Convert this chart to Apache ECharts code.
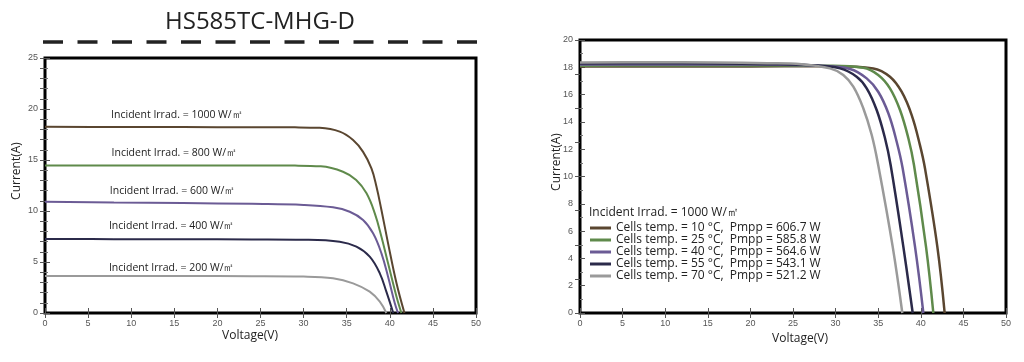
<!DOCTYPE html>
<html><head><meta charset="utf-8">
<script src="https://cdn.jsdelivr.net/npm/echarts@6/dist/echarts.min.js"></script>
<style>html,body{margin:0;padding:0;background:#fff}#c{width:1024px;height:362px}</style>
</head><body><div id="c"></div>
<script>
// ---------- DATA ----------
const titleText = 'HS585TC-MHG-D';
// Left chart: irradiance curves (voltage V, current A)
const irrNames = ['Incident Irrad. = 1000 W/㎡','Incident Irrad. = 800 W/㎡','Incident Irrad. = 600 W/㎡','Incident Irrad. = 400 W/㎡','Incident Irrad. = 200 W/㎡'];
const irr1000V = [0, 8, 16, 24, 29, 31.86, 34.19, 35.74, 36.9, 37.87, 38.45, 39.03, 39.8, 40.78, 41.7];
const irr1000I = [18.25, 18.24, 18.23, 18.21, 18.2, 18.15, 17.78, 16.96, 15.8, 14.18, 12.4, 10.1, 6.83, 2.91, 0];
const irr800V  = [0, 8, 16, 24, 29, 32.0, 34.57, 36.1, 37.3, 38.26, 39.03, 39.8, 40.78, 41.35];
const irr800I  = [14.47, 14.47, 14.46, 14.46, 14.45, 14.38, 13.85, 13.04, 11.73, 9.77, 7.48, 4.87, 1.6, 0];
const irr600V  = [0, 8, 16, 24, 30, 33.41, 35.35, 36.9, 38.06, 39.03, 39.8, 40.58, 40.95];
const irr600I  = [10.9, 10.84, 10.78, 10.7, 10.6, 10.36, 9.93, 9.12, 7.81, 5.85, 3.56, 0.95, 0];
const irr400V  = [0, 8, 16, 24, 30, 34.19, 36.13, 37.67, 38.84, 39.6, 40.4];
const irr400I  = [7.25, 7.24, 7.23, 7.21, 7.18, 6.99, 6.5, 5.52, 3.89, 2.09, 0];
const irr200V  = [0, 8, 16, 24, 30, 33.41, 35.74, 37.67, 38.84, 39.6];
const irr200I  = [3.63, 3.63, 3.62, 3.61, 3.57, 3.4, 2.91, 2.09, 1.11, 0];
// caption anchor (V, I) for each irradiance curve
const irrLabelV = [15.3, 15.0, 14.8, 14.7, 14.7];
const irrLabelI = [19.4, 15.7, 12.0, 8.55, 4.4];
// Right chart: temperature curves at 1000 W/㎡
const irradNote = 'Incident Irrad. = 1000 W/㎡';
const tempNames = ['Cells temp. = 10 °C,  Pmpp = 606.7 W','Cells temp. = 25 °C,  Pmpp = 585.8 W','Cells temp. = 40 °C,  Pmpp = 564.6 W','Cells temp. = 55 °C,  Pmpp = 543.1 W','Cells temp. = 70 °C,  Pmpp = 521.2 W'];
const t10V = [0, 8, 16, 24, 30, 34.43, 36.38, 37.75, 38.93, 39.9, 40.49, 41.94, 42.8];
const t10I = [18.05, 18.06, 18.06, 18.07, 18.08, 17.92, 17.31, 16.21, 14.5, 12.3, 10.6, 4.86, 0];
const t25V = [0, 8, 16, 24, 29, 33.25, 35.0, 36.38, 37.56, 38.54, 39.2, 40.61, 41.47];
const t25I = [18.12, 18.13, 18.14, 18.14, 18.12, 17.97, 17.44, 16.46, 14.87, 12.8, 10.84, 4.86, 0];
const t40V = [0, 8, 16, 24, 28, 31.69, 33.65, 35.0, 36.19, 37.17, 37.87, 39.32, 40.3];
const t40I = [18.2, 18.21, 18.21, 18.18, 18.12, 17.88, 17.19, 16.21, 14.63, 12.55, 10.6, 4.86, 0];
const t55V = [0, 8, 16, 22, 27, 30.52, 32.47, 33.65, 34.82, 35.8, 36.46, 37.95, 39.05];
const t55I = [18.28, 18.3, 18.28, 18.23, 18.15, 17.92, 17.31, 16.46, 14.87, 12.8, 10.84, 4.86, 0];
const t70V = [0, 8, 16, 22, 26, 29.34, 30.9, 32.08, 33.25, 34.24, 35.0, 36.7, 37.83];
const t70I = [18.35, 18.37, 18.35, 18.3, 18.22, 17.92, 17.44, 16.58, 15.0, 13.04, 10.84, 4.86, 0];

// ---------- STYLE ----------
const colors = ['#5a4630', '#5f8a4b', '#6b5b95', '#2b2a4a', '#9a9a9a'];
const txtFont = '"Open Sans", "Noto Sans", sans-serif';
const tickFont = '"Liberation Sans", Arial, sans-serif';
const zip = (a, b) => a.map((v, i) => [v, b[i]]);

const irrV = [irr1000V, irr800V, irr600V, irr400V, irr200V];
const irrI = [irr1000I, irr800I, irr600I, irr400I, irr200I];
const tV = [t10V, t25V, t40V, t55V, t70V];
const tI = [t10I, t25I, t40I, t55I, t70I];

function xAx(gi, pos, labels) {
  return {
    gridIndex: gi, type: 'value', min: 0, max: 50, interval: 5, position: pos,
    axisLine: { show: false },
    axisTick: { show: true, inside: true, length: 5, lineStyle: { color: '#555', width: 1 } },
    axisLabel: { show: labels, color: '#555', fontSize: 9, fontFamily: tickFont, margin: 6 },
    splitLine: { show: false }
  };
}
function yAx(gi, pos, max, interval, labels, minorSplit) {
  return {
    gridIndex: gi, type: 'value', min: 0, max: max, interval: interval, position: pos,
    axisLine: { show: false },
    axisTick: { show: true, inside: true, length: 5, lineStyle: { color: '#555', width: 1 } },
    minorTick: { show: minorSplit > 0, splitNumber: minorSplit || 5, length: 3, lineStyle: { color: '#777', width: 1 } },
    axisLabel: { show: labels, color: '#555', fontSize: 9, fontFamily: tickFont, margin: 7 },
    splitLine: { show: false }
  };
}

const series = [];
irrV.forEach((v, k) => {
  series.push({
    type: 'line', xAxisIndex: 0, yAxisIndex: 0, data: zip(v, irrI[k]),
    smooth: 0.4, showSymbol: false, symbol: 'none',
    lineStyle: { color: colors[k], width: 2 }, itemStyle: { color: colors[k] },
    markPoint: {
      symbol: 'rect', symbolSize: [1, 1], itemStyle: { color: 'rgba(0,0,0,0)' },
      label: { show: true, position: 'inside', formatter: irrNames[k], color: '#222', fontSize: 10.5, fontFamily: txtFont },
      data: [{ coord: [irrLabelV[k], irrLabelI[k]] }]
    }
  });
});
tV.forEach((v, k) => {
  series.push({
    name: tempNames[k], type: 'line', xAxisIndex: 2, yAxisIndex: 2, data: zip(v, tI[k]),
    smooth: 0.4, showSymbol: false, symbol: 'none',
    lineStyle: { color: colors[k], width: 2.5 }, itemStyle: { color: colors[k] }
  });
});

const chart = echarts.init(document.getElementById('c'), null, { renderer: 'canvas' });
chart.setOption({
  animation: false,
  backgroundColor: '#fff',
  grid: [
    { left: 45, top: 58, width: 431, height: 255, show: true, borderColor: '#000', borderWidth: 3, backgroundColor: 'transparent' },
    { left: 580, top: 40, width: 426, height: 273, show: true, borderColor: '#000', borderWidth: 3, backgroundColor: 'transparent' }
  ],
  xAxis: [xAx(0, 'bottom', true), xAx(0, 'top', false), xAx(1, 'bottom', true), xAx(1, 'top', false)],
  yAxis: [yAx(0, 'left', 25, 5, true, 5), yAx(0, 'right', 25, 1, false, 0), yAx(1, 'left', 20, 2, true, 2), yAx(1, 'right', 20, 2.5, false, 0)],
  legend: {
    data: tempNames, orient: 'vertical', left: 590, top: 222, padding: 0, itemGap: 0,
    icon: 'rect', itemWidth: 21, itemHeight: 3,
    textStyle: { color: '#222', fontSize: 12, fontFamily: txtFont, lineHeight: 11.7 },
    selectedMode: false
  },
  graphic: [
    { type: 'text', style: { text: titleText, x: 260, y: 22, align: 'center', verticalAlign: 'middle', fontSize: 24, fontFamily: txtFont, fill: '#222' } },
    { type: 'line', shape: { x1: 43, y1: 42, x2: 477, y2: 42 }, style: { stroke: '#222', lineWidth: 3.5, lineDash: [20, 14.5] } },
    { type: 'text', style: { text: 'Current(A)', x: 0, y: 0, align: 'center', verticalAlign: 'middle', fontSize: 12, fontFamily: txtFont, fill: '#222' }, x: 17, y: 171, rotation: Math.PI / 2 },
    { type: 'text', style: { text: 'Voltage(V)', x: 250, y: 336, align: 'center', verticalAlign: 'middle', fontSize: 12, fontFamily: txtFont, fill: '#222' } },
    { type: 'text', style: { text: 'Current(A)', x: 0, y: 0, align: 'center', verticalAlign: 'middle', fontSize: 12, fontFamily: txtFont, fill: '#222' }, x: 557, y: 162, rotation: Math.PI / 2 },
    { type: 'text', style: { text: 'Voltage(V)', x: 800, y: 339, align: 'center', verticalAlign: 'middle', fontSize: 12, fontFamily: txtFont, fill: '#222' } },
    { type: 'text', style: { text: irradNote, x: 589, y: 213, align: 'left', verticalAlign: 'middle', fontSize: 12, fontFamily: txtFont, fill: '#222' } }
  ],
  series: series
});
</script></body></html>
